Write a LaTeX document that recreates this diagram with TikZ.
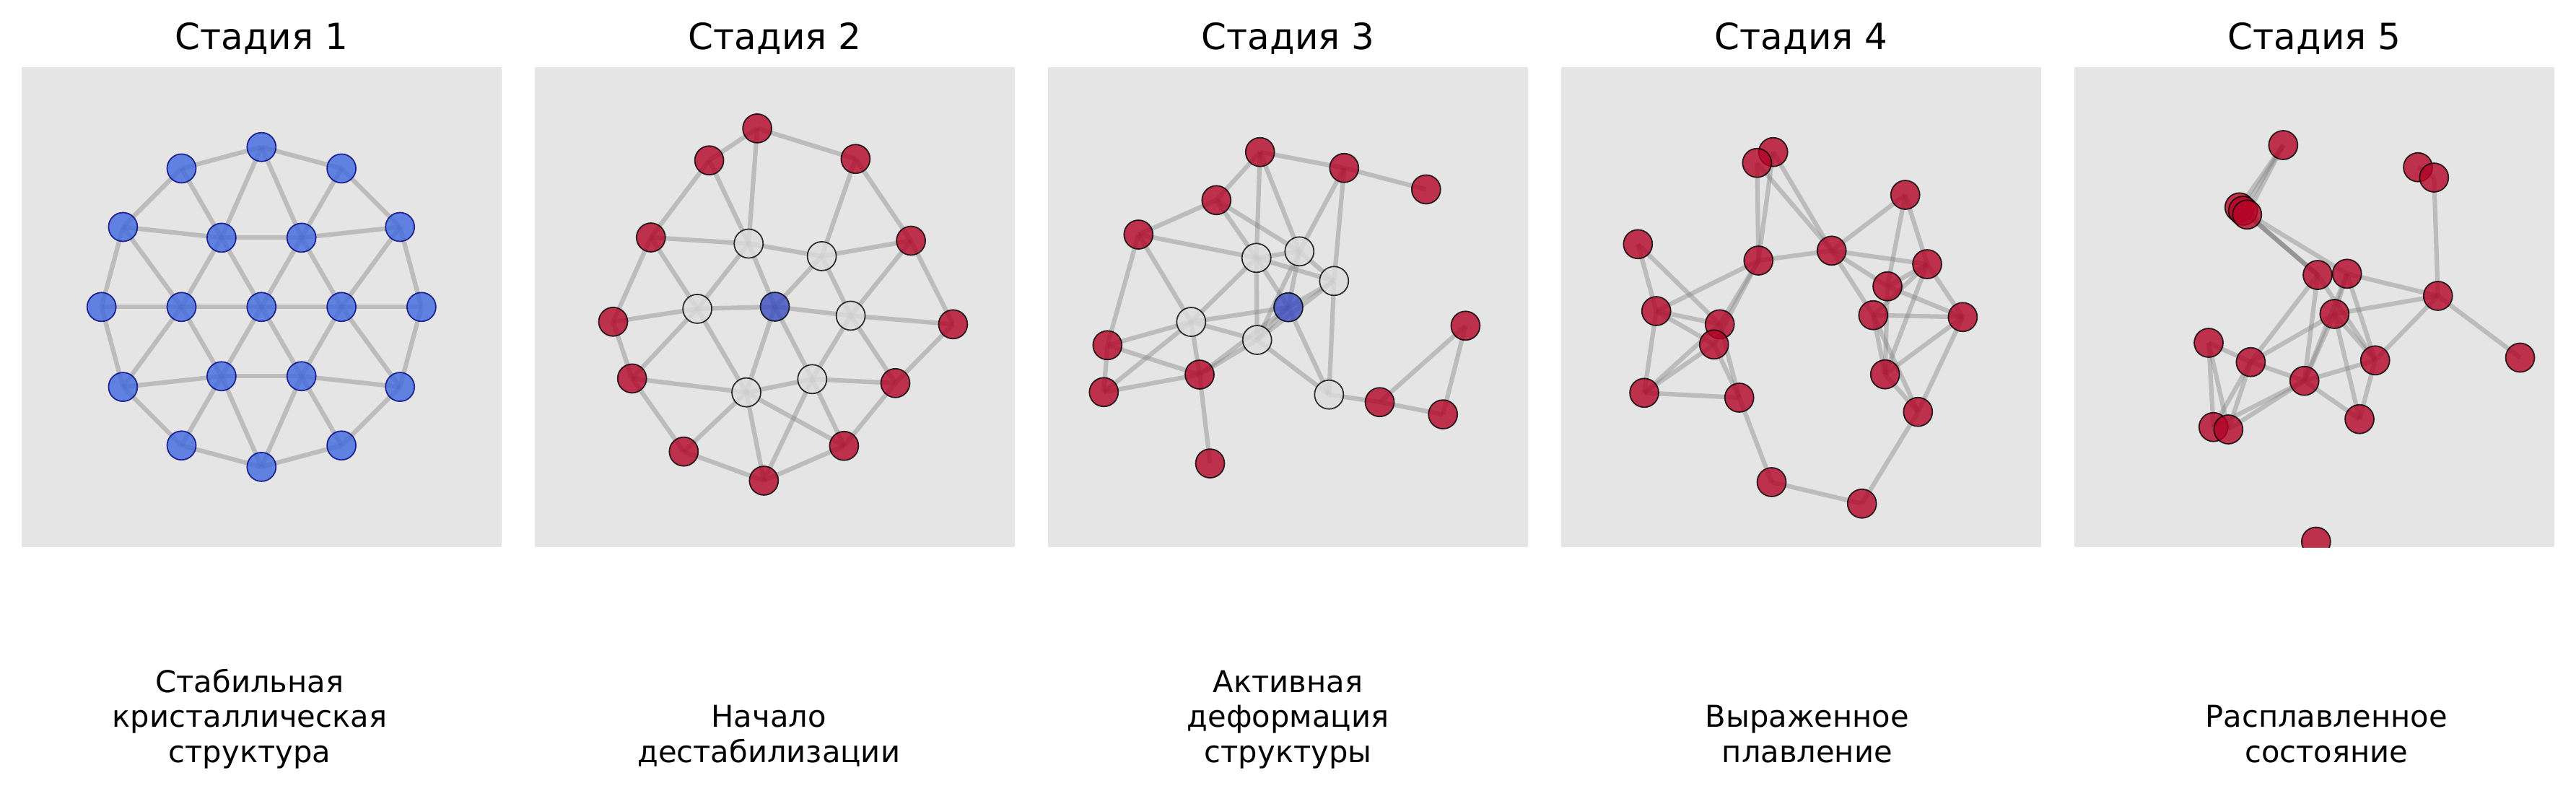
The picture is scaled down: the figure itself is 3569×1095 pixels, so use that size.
\documentclass[tikz,border=0pt]{standalone}
\usepackage{fontspec}
\setmainfont{DejaVu Sans}
\pgfdeclarelayer{back}
\pgfdeclarelayer{edges}
\pgfsetlayers{back,edges,main}
\definecolor{panelbg}{RGB}{229,229,229}
\definecolor{edgegray}{RGB}{128,128,128}
\definecolor{cwred}{RGB}{180,4,38}
\definecolor{cwblue}{RGB}{59,76,192}
\definecolor{cwmid}{RGB}{221,221,221}
\definecolor{royal}{RGB}{65,105,225}
\definecolor{navyc}{RGB}{0,0,128}
\tikzset{
  atom/.style={circle, minimum size=8pt, inner sep=0pt, line width=0.35pt, opacity=0.8},
  crysatom/.style={atom, fill=royal, draw=navyc},
  hotatom/.style={atom, fill=cwred, draw=black},
  coldatom/.style={atom, fill=cwblue, draw=black},
  midatom/.style={atom, fill=cwmid, draw=black},
  bond/.style={draw=edgegray, draw opacity=0.4, line width=1.25pt},
  panelbox/.style={fill=panelbg},
  ttl/.style={inner sep=0pt, anchor=base, font=\fontsize{10pt}{12pt}\selectfont},
  capt/.style={inner sep=0pt, anchor=base, font=\fontsize{8.33pt}{9.67pt}\selectfont},
}
\newcommand\mybonds[1]{\begin{pgfonlayer}{edges}\foreach \u/\v in {#1}{\draw[bond] (\u.center) -- (\v.center);}\end{pgfonlayer}}
\begin{document}
\begin{tikzpicture}[x=0.2pt,y=-0.2pt]
\useasboundingbox (0,0) rectangle (3569,1095);
\begin{pgfonlayer}{back}
\fill[white] (0,0) rectangle (3569,1095);
\foreach \i in {0,...,4} \fill[panelbox] ({29.8+711*\i},93) rectangle ++(665.4,665.4);
\end{pgfonlayer}

% titles
\node[ttl] (t1) at (362.5,68.6) {Стадия 1};
\node[ttl] (t2) at (1073.5,68.6) {Стадия 2};
\node[ttl] (t3) at (1784.5,68.6) {Стадия 3};
\node[ttl] (t4) at (2495.5,68.6) {Стадия 4};
\node[ttl] (t5) at (3206.5,68.6) {Стадия 5};

% captions
\node[capt] (c1) at (345.9,1056) {\begin{tabular}[b]{@{}c@{}}Стабильная\\кристаллическая\\структура\end{tabular}};
\node[capt] (c2) at (1065.2,1056) {\begin{tabular}[b]{@{}c@{}}Начало\\дестабилизации\end{tabular}};
\node[capt] (c3) at (1784.5,1056) {\begin{tabular}[b]{@{}c@{}}Активная\\деформация\\структуры\end{tabular}};
\node[capt] (c4) at (2503.8,1056) {\begin{tabular}[b]{@{}c@{}}Выраженное\\плавление\end{tabular}};
\node[capt] (c5) at (3223.1,1056) {\begin{tabular}[b]{@{}c@{}}Расплавленное\\состояние\end{tabular}};

% ---------- panel 1 ----------
\node[crysatom] (a0) at (362.3,425.3) {};
\foreach \k in {0,...,5} \node[crysatom] (ai\k) at ([shift={(362.3,425.3)}]{60*\k}:110.8) {};
\foreach \j in {0,...,11} \node[crysatom] (ao\j) at ([shift={(362.3,425.3)}]{30*\j}:221.6) {};
\begin{pgfonlayer}{edges}
\foreach \j in {0,...,11}{
  \pgfmathtruncatemacro\n{mod(\j+1,12)}
  \draw[bond] (ao\j.center) -- (ao\n.center);
}
\foreach \k in {0,...,5}{
  \pgfmathtruncatemacro\n{mod(\k+1,6)}
  \pgfmathtruncatemacro\e{2*\k}
  \pgfmathtruncatemacro\o{2*\k+1}
  \draw[bond] (a0.center) -- (ai\k.center);
  \draw[bond] (ai\k.center) -- (ai\n.center);
  \draw[bond] (ai\k.center) -- (ao\e.center);
  \draw[bond] (ao\o.center) -- (ai\k.center);
  \draw[bond] (ao\o.center) -- (ai\n.center);
}
\end{pgfonlayer}

% ---------- panel 2 ----------
\node[hotatom] (bR1) at (1049.1,177.9) {};
\node[hotatom] (bR2) at (982.6,222.2) {};
\node[hotatom] (bR3) at (1185.4,220.2) {};
\node[hotatom] (bR4) at (901.8,329.0) {};
\node[hotatom] (bR5) at (1262.1,333.5) {};
\node[hotatom] (bR6) at (849.5,445.8) {};
\node[hotatom] (bR7) at (1320.4,449.3) {};
\node[hotatom] (bR8) at (875.7,524.4) {};
\node[hotatom] (bR9) at (1240.5,530.8) {};
\node[hotatom] (bR10) at (947.3,625.7) {};
\node[hotatom] (bR11) at (1169.4,617.8) {};
\node[hotatom] (bR12) at (1058.3,666.0) {};
\node[midatom] (bW1) at (1037.2,337.5) {};
\node[midatom] (bW2) at (1138.6,354.9) {};
\node[midatom] (bW3) at (966.1,427.9) {};
\node[midatom] (bW4) at (1178.6,437.4) {};
\node[midatom] (bW5) at (1125.3,525.3) {};
\node[midatom] (bW6) at (1034.0,543.7) {};
\node[coldatom] (bB) at (1073.5,425.0) {};
\mybonds{bR1/bR2, bR1/bR3, bR1/bW1, bR2/bR4, bR2/bW1, bR3/bW2, bR3/bR5, bR4/bW1, bR4/bR6, bR4/bW3, bR5/bW2, bR5/bW4, bR5/bR7, bR6/bW3, bR6/bR8, bR7/bW4, bR7/bR9, bR8/bW3, bR8/bW6, bR8/bR10, bR9/bW4, bR9/bW5, bR9/bR11, bR10/bW6, bR10/bR12, bR11/bW5, bR11/bW6, bR11/bR12, bR12/bW6, bR12/bW5, bW1/bW2, bW1/bW3, bW1/bB, bW2/bB, bW2/bW4, bW3/bB, bW3/bW6, bW4/bB, bW4/bW5, bW5/bW6, bW5/bB, bW6/bB}

% ---------- panel 3 ----------
\node[hotatom] (cA1) at (1745.7,210.7) {};
\node[hotatom] (cA2) at (1862.3,232.7) {};
\node[hotatom] (cA3) at (1975.8,262.4) {};
\node[hotatom] (cA4) at (1685.3,277.3) {};
\node[hotatom] (cA5) at (1577.3,325.0) {};
\node[hotatom] (cA6) at (2030.4,451.3) {};
\node[hotatom] (cA7) at (1534.3,478.3) {};
\node[hotatom] (cA8) at (1529.3,543.3) {};
\node[hotatom] (cA9) at (1662.0,519.0) {};
\node[hotatom] (cA10) at (1911.5,557.2) {};
\node[hotatom] (cA11) at (1999.2,574.1) {};
\node[hotatom] (cA12) at (1676.5,642.1) {};
\node[midatom] (cW1) at (1740.7,357.3) {};
\node[midatom] (cW2) at (1800.3,348.3) {};
\node[midatom] (cW3) at (1848.3,389.3) {};
\node[midatom] (cW4) at (1650.3,446.0) {};
\node[midatom] (cW5) at (1741.7,471.0) {};
\node[midatom] (cW6) at (1841.3,546.7) {};
\node[coldatom] (cB) at (1785.0,425.7) {};
\mybonds{cA1/cA4, cA1/cA2, cA1/cW1, cW1/cW5, cA1/cW2, cA2/cW2, cA2/cW3, cW3/cW6, cA2/cA3, cA4/cA5, cA4/cW1, cA4/cW2, cA5/cW1, cA5/cW4, cA5/cA7, cW1/cW2, cW1/cW3, cW1/cB, cW1/cW4, cW2/cW3, cW2/cB, cW2/cW5, cB/cW3, cW5/cW3, cA9/cW5, cA9/cB, cW5/cB, cB/cW6, cW4/cB, cW4/cW5, cW4/cA7, cW4/cA8, cW4/cA9, cA7/cA9, cA7/cA8, cA8/cA9, cW5/cW6, cA9/cA12, cW6/cA10, cA10/cA11, cA10/cA6, cA11/cA6}

% ---------- panel 4 ----------
\node[hotatom] (d1) at (2456.7,210.7) {};
\node[hotatom] (d2) at (2434.3,225.7) {};
\node[hotatom] (d3) at (2639.7,270.0) {};
\node[hotatom] (d4) at (2269.3,338.3) {};
\node[hotatom] (d5) at (2436.3,361.0) {};
\node[hotatom] (d6) at (2537.7,347.3) {};
\node[hotatom] (d7) at (2670.0,366.0) {};
\node[hotatom] (d8) at (2615.0,396.7) {};
\node[hotatom] (d9) at (2294.7,431.0) {};
\node[hotatom] (d10) at (2382.7,449.3) {};
\node[hotatom] (d11) at (2595.3,436.7) {};
\node[hotatom] (d12) at (2719.3,439.3) {};
\node[hotatom] (d13) at (2374.7,477.3) {};
\node[hotatom] (d14) at (2611.7,518.7) {};
\node[hotatom] (d15) at (2278.0,544.3) {};
\node[hotatom] (d16) at (2409.7,551.0) {};
\node[hotatom] (d17) at (2657.3,570.7) {};
\node[hotatom] (d18) at (2454.5,668.0) {};
\node[hotatom] (d19) at (2579.7,697.8) {};
\mybonds{d1/d5, d2/d5, d1/d6, d2/d6, d5/d6, d5/d9, d5/d10, d5/d13, d4/d9, d4/d10, d9/d10, d9/d13, d9/d15, d15/d13, d15/d10, d15/d16, d13/d16, d10/d16, d16/d18, d18/d19, d19/d17, d3/d6, d3/d8, d3/d7, d6/d7, d6/d8, d6/d11, d7/d8, d7/d11, d7/d12, d7/d14, d8/d12, d8/d14, d11/d14, d11/d17, d11/d12, d12/d14, d12/d17, d14/d17}

% ---------- panel 5 ----------
\begin{scope}
\clip (2873.8,93) rectangle ++(665.4,665.4);
\node[hotatom] (e1) at (3163.3,201.0) {};
\node[hotatom] (e2) at (3350.0,231.7) {};
\node[hotatom] (e3) at (3372.3,246.0) {};
\node[hotatom] (e4) at (3102.7,287.3) {};
\node[hotatom] (e4b) at (3107.7,292.0) {};
\node[hotatom] (e5) at (3113.3,297.3) {};
\node[hotatom] (e6) at (3211.0,381.0) {};
\node[hotatom] (e7) at (3251.7,379.3) {};
\node[hotatom] (e8) at (3377.7,410.0) {};
\node[hotatom] (e9) at (3234.3,435.0) {};
\node[hotatom] (e10) at (3060.0,475.0) {};
\node[hotatom] (e11) at (3118.3,501.7) {};
\node[hotatom] (e12) at (3290.7,499.3) {};
\node[hotatom] (e13) at (3491.5,495.5) {};
\node[hotatom] (e14) at (3192.7,527.7) {};
\node[hotatom] (e15) at (3269.0,580.7) {};
\node[hotatom] (e16) at (3066.7,591.7) {};
\node[hotatom] (e17) at (3087.3,595.0) {};
\node[hotatom] (e18) at (3208.8,750.5) {};
\end{scope}
\mybonds{e1/e4, e1/e4b, e1/e5, e4/e6, e4b/e6, e5/e6, e4b/e7, e2/e3, e3/e8, e7/e8, e9/e8, e8/e12, e8/e13, e6/e11, e6/e14, e6/e12, e7/e12, e9/e12, e7/e9, e7/e14, e9/e14, e9/e11, e9/e15, e12/e15, e12/e14, e14/e15, e10/e11, e10/e16, e10/e17, e11/e14, e11/e16, e11/e17, e14/e16, e14/e17}
\end{tikzpicture}
\end{document}
